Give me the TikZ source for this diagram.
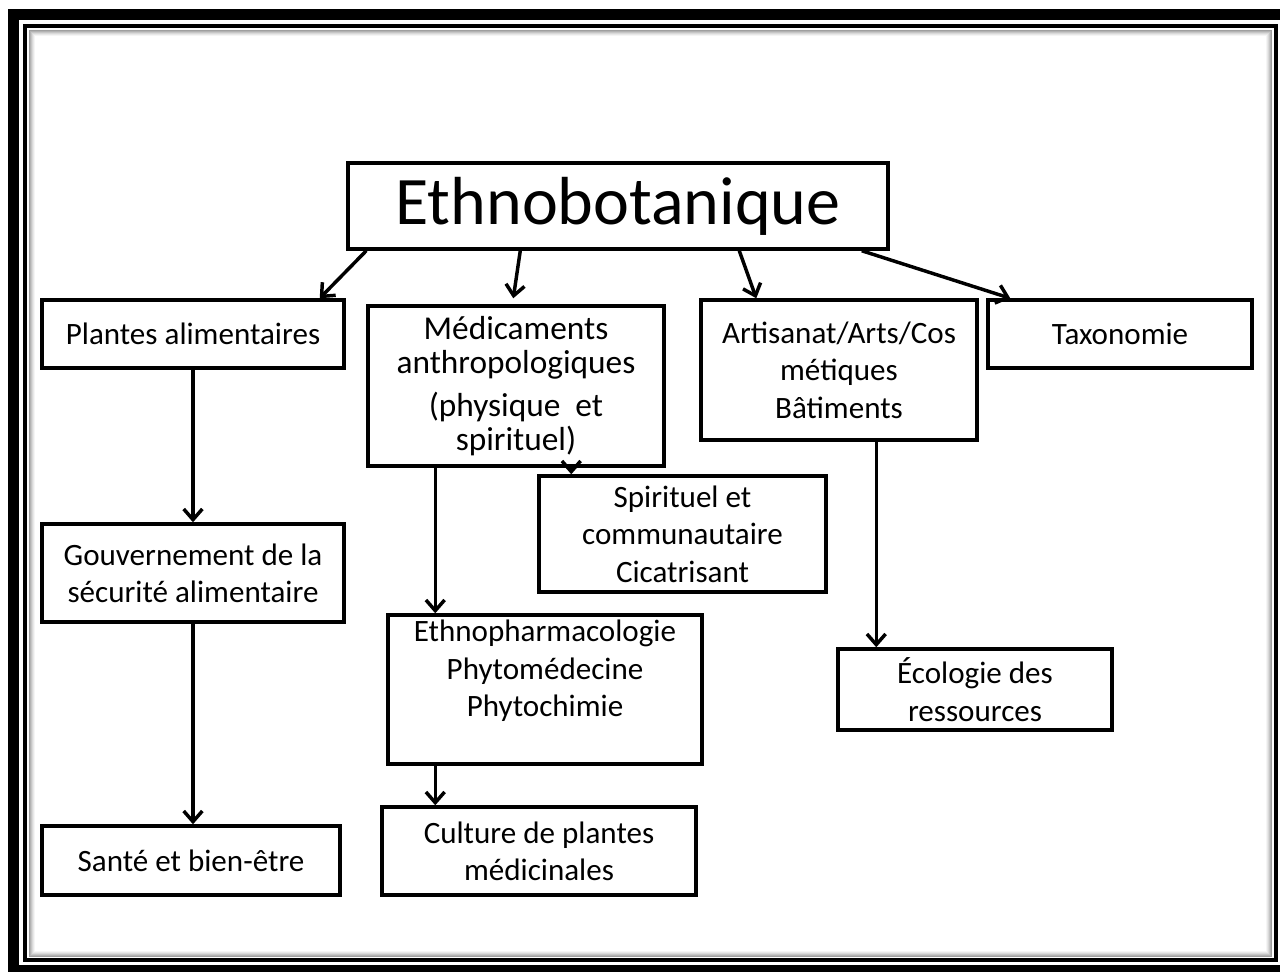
\documentclass[tikz,border=0pt]{standalone}
\usepackage{fontspec}
\setmainfont{Carlito}
\usetikzlibrary{arrows.meta,calc}
\begin{document}
\begin{tikzpicture}[x=0.75pt,y=-0.75pt,
  box/.style={draw, line width=2.6pt, align=center, inner sep=0pt,
    font=\fontsize{23.3}{28}\selectfont},
  txt/.style={align=center, inner sep=0pt, font=\fontsize{23.3}{28}\selectfont},
  arr/.style={line width=2.6pt, -{Straight Barb[length=8pt,width=14pt]}}]
\useasboundingbox (0,0) rectangle (1280,971);
\clip (0,0) rectangle (1280,971);
% frame
\fill[white] (0,0) rectangle (1280,971);
\fill[black] (8,9) rectangle (1300,1000);
\fill[white] (19,20) rectangle (1300,965);
\draw[gray!8, line width=0.75pt] (34,35) rectangle (1266,951);
\draw[gray!18, line width=0.75pt] (33,34) rectangle (1267,952);
\draw[gray!30, line width=0.75pt] (32,33) rectangle (1268,953);
\draw[gray!45, line width=0.75pt] (31,32) rectangle (1269,954);
\draw[gray!60, line width=0.75pt] (30,31) rectangle (1270,955);
\draw[gray!75, line width=0.75pt] (29,30) rectangle (1271,956);
\draw[black, line width=3pt] (24.5,25.5) rectangle (1275.5,960);

% boxes
\node[box, minimum width=405pt, minimum height=64.5pt,
  font=\fontsize{51}{60}\selectfont] (eth) at (618,206) {Ethnobotanique};
\node[box, minimum width=226.5pt, minimum height=51pt] (pa) at (193,334) {Plantes alimentaires};
\node[box, minimum width=222pt, minimum height=120pt,
  font=\fontsize{25}{25.5}\selectfont] (med) at (516,386)
  {Médicaments\\anthropologiques\\[7pt](physique\ \ et\\spirituel)};
\node[box, minimum width=207pt, minimum height=105pt] (art) at (839,370)
  {Artisanat/Arts/Cos\\métiques\\Bâtiments};
\node[box, minimum width=198pt, minimum height=51pt] (tax) at (1120,334) {Taxonomie};
\node[box, minimum width=226.5pt, minimum height=73.5pt] (gouv) at (193,573)
  {Gouvernement de la\\sécurité alimentaire};
\node[box, minimum width=215.25pt, minimum height=87pt] (spi) at (682.5,534)
  {Spirituel et\\communautaire\\Cicatrisant};
\node[box, minimum width=235.5pt, minimum height=111.75pt] (eph) at (545,689.5) {};
\node[txt] (ephT) at (545,671) {Ethnopharmacologie\\Phytomédecine\\Phytochimie};
\node[box, minimum width=205.5pt, minimum height=60.75pt] (eco) at (975,689.5)
  {Écologie des\\ressources};
\node[box, minimum width=223.5pt, minimum height=51.75pt] (sante) at (191,860.5)
  {Santé et bien-être};
\node[box, minimum width=235.5pt, minimum height=66pt] (cult) at (539,851)
  {Culture de plantes\\médicinales};

% connectors
\coordinate (m1) at ($(med.south west)+(69,0)$);
\coordinate (m2) at ($(med.south west)+(205,0)$);
\coordinate (a1) at ($(art.south west)+(177,0)$);
\draw[arr] ($(eth.south west)+(20,0)$) -- ($(pa.north east)+(-26,0)$);
\draw[arr] ($(eth.south west)+(174,0)$) -- ($(med.north west)+(147,-6)$);
\draw[arr] ($(eth.south west)+(393,0)$) -- ($(art.north west)+(57,0)$);
\draw[arr] ($(eth.south east)+(-28,0)$) -- ($(tax.north west)+(24,0)$);
\draw[arr] (pa.south) -- (gouv.north);
\draw[arr] (gouv.south) -- (gouv.south |- sante.north);
\draw[arr] (m1) -- (m1 |- eph.north);
\draw[arr] (m2) -- (m2 |- spi.north);
\draw[arr] (m1 |- eph.south) -- (m1 |- cult.north);
\draw[arr] (a1) -- (a1 |- eco.north);
\end{tikzpicture}
\end{document}
